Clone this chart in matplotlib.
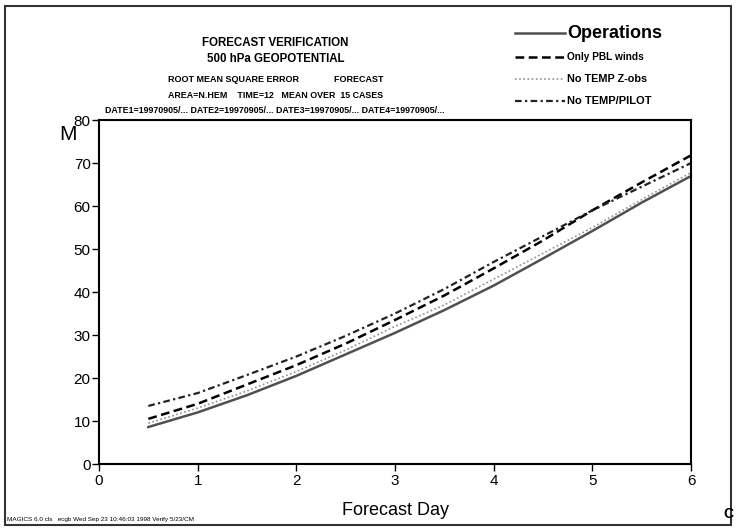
#!/usr/bin/env python3
"""Forecast verification: 500 hPa geopotential RMS error vs forecast day."""

import matplotlib.pyplot as plt
from matplotlib.patches import Rectangle

plt.rcParams["font.family"] = ["Liberation Sans", "DejaVu Sans"]

# forecast steps (days) and RMS error (m) for each experiment
DAYS = [0.5, 1, 1.5, 2, 2.5, 3, 3.5, 4, 4.5, 5, 5.5, 6]
OPERATIONS = [8.6, 12.0, 16.0, 20.5, 25.5, 30.5, 35.8, 41.5, 47.8, 54.2, 60.8, 67.0]
NO_TEMP_Z = [9.5, 13.0, 17.0, 21.5, 26.5, 32.0, 37.0, 43.0, 49.0, 55.0, 61.5, 67.8]
ONLY_PBL = [10.5, 14.0, 18.5, 23.0, 28.0, 33.5, 39.2, 45.5, 52.0, 59.0, 65.5, 71.8]
NO_TEMP_PILOT = [13.5, 16.5, 20.7, 25.0, 29.8, 35.0, 40.7, 47.0, 53.0, 59.0, 64.5, 70.0]

X_TICKS = [0, 1, 2, 3, 4, 5, 6]
Y_TICKS = [0, 10, 20, 30, 40, 50, 60, 70, 80]

TITLE_LINES = [
    ("FORECAST VERIFICATION", 8.3, 0.918),
    ("500 hPa GEOPOTENTIAL", 8.3, 0.889),
    ("ROOT MEAN SQUARE ERROR              FORECAST", 6.5, 0.849),
    ("AREA=N.HEM    TIME=12   MEAN OVER  15 CASES", 6.4, 0.819),
    ("DATE1=19970905/... DATE2=19970905/... DATE3=19970905/... DATE4=19970905/...", 6.4, 0.791),
]

fig = plt.figure(figsize=(7.36, 5.28), dpi=100)
ax = fig.add_axes([0.1345, 0.1212, 0.8045, 0.6515])

ax.plot(DAYS, OPERATIONS, "-", color="#505050", lw=1.8)
ax.plot(DAYS, NO_TEMP_Z, linestyle=(0, (1, 1.5)), color="#909090", lw=1.2)
ax.plot(DAYS, ONLY_PBL, linestyle=(0, (3.5, 1.8)), color="black", lw=1.8)
ax.plot(DAYS, NO_TEMP_PILOT, linestyle=(0, (3, 1.5, 1, 1.5)), color="#222222", lw=1.6)

ax.set_xlim(0, 6)
ax.set_ylim(0, 80)
ax.set_xticks(X_TICKS)
ax.set_yticks(Y_TICKS)
ax.tick_params(axis="both", direction="out", length=5, width=1, labelsize=11, pad=2)
ax.tick_params(axis="y", pad=1)
for s in ax.spines.values():
    s.set_linewidth(1.5)
ax.set_xlabel("Forecast Day", fontsize=13, labelpad=10)
fig.text(0.080, 0.746, "M", fontsize=15, ha="left", va="center")

for txt, size, y in TITLE_LINES:
    fig.text(0.374, y, txt, fontsize=size, weight="bold", ha="center", va="center")

# legend drawn by hand to match the original layout
legend_items = [
    ("Operations", "-", "#505050", 1.8, 13, 0.937),
    ("Only PBL winds", (0, (3.5, 1.8)), "black", 1.8, 7.3, 0.892),
    ("No TEMP Z-obs", (0, (1, 1.5)), "#909090", 1.2, 7.8, 0.850),
    ("No TEMP/PILOT", (0, (3, 1.5, 1, 1.5)), "#222222", 1.6, 8.0, 0.808),
]
for label, ls, col, lw, size, y in legend_items:
    fig.add_artist(plt.Line2D([0.700, 0.767], [y, y], linestyle=ls, color=col, lw=lw,
                              transform=fig.transFigure))
    fig.text(0.771, y, label, fontsize=size, weight="bold", ha="left", va="center")

fig.text(0.010, 0.012, "MAGICS 6.0 cls   ecgb Wed Sep 23 10:46:03 1998 Verify 5/23/CM",
         fontsize=4.6, ha="left", va="bottom")
fig.text(0.997, 0.026, "C", fontsize=10, weight="black", ha="right", va="center")

fig.add_artist(Rectangle((0.007, 0.005), 0.986, 0.984, transform=fig.transFigure,
                         fill=False, edgecolor="#333333", lw=1.5))

fig.savefig("out.png", dpi=100)
